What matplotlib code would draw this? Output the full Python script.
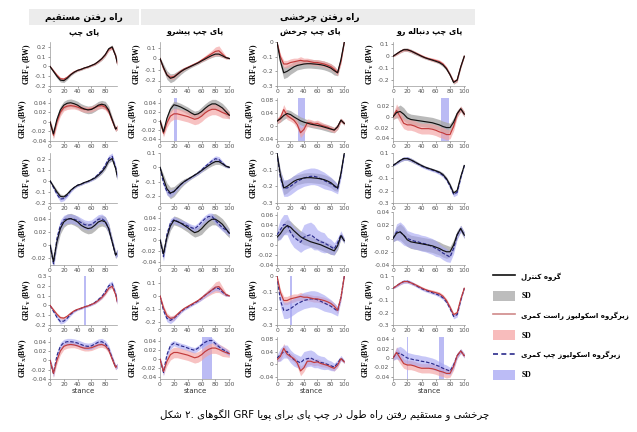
import matplotlib
matplotlib.use('Agg')
import matplotlib.pyplot as plt
from matplotlib.lines import Line2D
from matplotlib.patches import Patch, Rectangle
from matplotlib.ticker import FuncFormatter

stance = list(range(0, 101, 5))

# ---- column 1: straight walking, left foot ----
c1_y_ctrl = [0.0, -0.05, -0.10, -0.14, -0.145, -0.12, -0.085, -0.06, -0.04, -0.03, -0.015, -0.005, 0.01, 0.025, 0.05, 0.08, 0.12, 0.18, 0.20, 0.11, -0.04]
c1_y_ctrl_sd = [0.01, 0.015, 0.02, 0.02, 0.02, 0.015, 0.012, 0.01, 0.01, 0.01, 0.01, 0.01, 0.01, 0.012, 0.015, 0.018, 0.02, 0.02, 0.02, 0.02, 0.02]
c1_y_right = [0.0, -0.045, -0.09, -0.125, -0.13, -0.11, -0.08, -0.055, -0.04, -0.028, -0.015, -0.005, 0.01, 0.025, 0.05, 0.08, 0.12, 0.175, 0.195, 0.11, -0.04]
c1_y_right_sd = [0.01, 0.012, 0.015, 0.015, 0.015, 0.012, 0.01, 0.008, 0.008, 0.008, 0.008, 0.008, 0.008, 0.01, 0.012, 0.014, 0.015, 0.018, 0.018, 0.018, 0.018]
c1_y_left = [0.0, -0.06, -0.12, -0.165, -0.16, -0.13, -0.09, -0.06, -0.04, -0.03, -0.015, -0.005, 0.01, 0.03, 0.06, 0.09, 0.14, 0.2, 0.22, 0.12, -0.04]
c1_y_left_sd = [0.01, 0.015, 0.02, 0.025, 0.02, 0.018, 0.015, 0.012, 0.01, 0.01, 0.01, 0.01, 0.012, 0.015, 0.018, 0.02, 0.025, 0.03, 0.03, 0.025, 0.02]

c1_x_ctrl = [0.0, -0.025, 0.005, 0.025, 0.035, 0.039, 0.04, 0.038, 0.035, 0.03, 0.027, 0.025, 0.026, 0.03, 0.035, 0.037, 0.035, 0.025, 0.005, -0.015, -0.008]
c1_x_ctrl_sd = [0.005, 0.008, 0.008, 0.008, 0.008, 0.008, 0.008, 0.008, 0.008, 0.008, 0.008, 0.008, 0.008, 0.008, 0.008, 0.008, 0.008, 0.008, 0.006, 0.005, 0.005]
c1_x_right = [0.0, -0.028, 0.0, 0.02, 0.03, 0.033, 0.034, 0.033, 0.031, 0.028, 0.026, 0.026, 0.027, 0.03, 0.033, 0.034, 0.031, 0.022, 0.003, -0.015, -0.008]
c1_x_right_sd = [0.005, 0.008, 0.008, 0.008, 0.007, 0.007, 0.007, 0.006, 0.006, 0.006, 0.006, 0.006, 0.006, 0.006, 0.006, 0.006, 0.006, 0.006, 0.006, 0.005, 0.005]
c1_x_left = [0.0, -0.028, 0.01, 0.03, 0.038, 0.04, 0.04, 0.039, 0.037, 0.034, 0.031, 0.03, 0.031, 0.035, 0.039, 0.04, 0.036, 0.025, 0.005, -0.015, -0.008]
c1_x_left_sd = [0.005, 0.008, 0.008, 0.008, 0.007, 0.007, 0.007, 0.007, 0.007, 0.007, 0.007, 0.007, 0.007, 0.007, 0.007, 0.007, 0.007, 0.007, 0.006, 0.005, 0.005]

# ---- column 2: turning, leading left foot ----
c2_y_ctrl = [0.0, -0.08, -0.15, -0.18, -0.17, -0.145, -0.12, -0.1, -0.085, -0.07, -0.055, -0.04, -0.022, -0.005, 0.012, 0.028, 0.04, 0.04, 0.025, 0.008, 0.0]
c2_y_ctrl_sd = [0.01, 0.03, 0.04, 0.04, 0.035, 0.03, 0.025, 0.02, 0.015, 0.012, 0.012, 0.012, 0.012, 0.015, 0.015, 0.018, 0.02, 0.02, 0.015, 0.01, 0.005]
c2_y_right = [0.0, -0.09, -0.15, -0.17, -0.165, -0.14, -0.115, -0.095, -0.08, -0.065, -0.05, -0.035, -0.015, 0.005, 0.025, 0.045, 0.065, 0.07, 0.04, 0.01, 0.0]
c2_y_right_sd = [0.01, 0.02, 0.02, 0.02, 0.02, 0.015, 0.012, 0.01, 0.01, 0.01, 0.01, 0.012, 0.015, 0.02, 0.025, 0.03, 0.04, 0.045, 0.03, 0.015, 0.005]
c2_y_left = [0.0, -0.11, -0.17, -0.185, -0.17, -0.145, -0.12, -0.1, -0.085, -0.07, -0.055, -0.038, -0.018, 0.005, 0.025, 0.045, 0.06, 0.055, 0.03, 0.008, 0.0]
c2_y_left_sd = [0.01, 0.02, 0.025, 0.025, 0.02, 0.015, 0.012, 0.01, 0.01, 0.01, 0.01, 0.012, 0.015, 0.015, 0.015, 0.018, 0.02, 0.02, 0.015, 0.01, 0.005]

c2_x_ctrl = [0.0, -0.025, 0.005, 0.025, 0.035, 0.033, 0.03, 0.026, 0.022, 0.017, 0.013, 0.015, 0.02, 0.027, 0.033, 0.037, 0.037, 0.033, 0.028, 0.02, 0.012]
c2_x_ctrl_sd = [0.005, 0.008, 0.008, 0.008, 0.008, 0.008, 0.008, 0.008, 0.008, 0.008, 0.008, 0.008, 0.01, 0.01, 0.01, 0.01, 0.01, 0.01, 0.01, 0.01, 0.008]
c2_x_right = [0.0, -0.028, -0.005, 0.01, 0.015, 0.015, 0.013, 0.011, 0.009, 0.006, 0.003, 0.005, 0.01, 0.017, 0.022, 0.025, 0.025, 0.022, 0.018, 0.015, 0.012]
c2_x_right_sd = [0.005, 0.008, 0.01, 0.012, 0.012, 0.012, 0.012, 0.012, 0.012, 0.012, 0.012, 0.012, 0.012, 0.012, 0.012, 0.012, 0.012, 0.012, 0.012, 0.01, 0.008]
c2_x_left = [0.0, -0.03, 0.01, 0.03, 0.036, 0.033, 0.03, 0.028, 0.025, 0.022, 0.02, 0.025, 0.032, 0.038, 0.042, 0.042, 0.035, 0.028, 0.022, 0.018, 0.012]
c2_x_left_sd = [0.005, 0.008, 0.008, 0.008, 0.006, 0.006, 0.006, 0.006, 0.006, 0.006, 0.006, 0.006, 0.006, 0.006, 0.006, 0.006, 0.006, 0.006, 0.006, 0.006, 0.005]

# ---- column 3: turning, pivot left foot ----
c3_y_ctrl = [0.0, -0.13, -0.21, -0.2, -0.185, -0.17, -0.16, -0.155, -0.15, -0.148, -0.148, -0.15, -0.152, -0.155, -0.16, -0.168, -0.178, -0.195, -0.21, -0.12, 0.0]
c3_y_ctrl_sd = [0.005, 0.03, 0.04, 0.04, 0.035, 0.035, 0.03, 0.03, 0.03, 0.03, 0.03, 0.03, 0.03, 0.03, 0.03, 0.03, 0.03, 0.03, 0.02, 0.02, 0.005]
c3_y_right = [0.0, -0.1, -0.15, -0.15, -0.14, -0.135, -0.13, -0.125, -0.13, -0.13, -0.135, -0.14, -0.14, -0.145, -0.15, -0.158, -0.168, -0.185, -0.21, -0.13, 0.0]
c3_y_right_sd = [0.005, 0.02, 0.025, 0.025, 0.025, 0.025, 0.02, 0.025, 0.02, 0.02, 0.02, 0.02, 0.02, 0.02, 0.02, 0.02, 0.02, 0.02, 0.02, 0.02, 0.005]
c3_y_left = [0.0, -0.15, -0.21, -0.21, -0.2, -0.185, -0.17, -0.16, -0.15, -0.145, -0.14, -0.14, -0.145, -0.155, -0.165, -0.175, -0.185, -0.2, -0.215, -0.13, 0.0]
c3_y_left_sd = [0.005, 0.04, 0.05, 0.05, 0.05, 0.05, 0.05, 0.05, 0.05, 0.05, 0.05, 0.05, 0.05, 0.05, 0.05, 0.045, 0.04, 0.035, 0.03, 0.02, 0.005]

c3_x_ctrl = [0.015, 0.022, 0.032, 0.038, 0.035, 0.028, 0.022, 0.016, 0.012, 0.009, 0.006, 0.004, 0.002, 0.0, -0.003, -0.006, -0.009, -0.012, -0.002, 0.018, 0.008]
c3_x_ctrl_sd = [0.008, 0.01, 0.012, 0.012, 0.012, 0.012, 0.012, 0.012, 0.012, 0.01, 0.01, 0.01, 0.01, 0.01, 0.01, 0.01, 0.01, 0.008, 0.008, 0.006, 0.005]
c3_x_right = [0.015, 0.025, 0.05, 0.032, 0.025, 0.018, 0.005, -0.02, -0.01, 0.01, 0.01, 0.006, 0.008, 0.003, 0.0, -0.003, -0.008, -0.012, -0.002, 0.018, 0.008]
c3_x_right_sd = [0.008, 0.012, 0.015, 0.012, 0.01, 0.01, 0.012, 0.015, 0.012, 0.012, 0.01, 0.01, 0.01, 0.01, 0.008, 0.008, 0.008, 0.008, 0.008, 0.006, 0.005]
c3_x_left = [0.02, 0.03, 0.04, 0.04, 0.025, 0.015, 0.01, 0.005, 0.015, 0.018, 0.02, 0.015, 0.01, 0.006, 0.004, 0.0, -0.004, -0.008, 0.004, 0.02, 0.008]
c3_x_left_sd = [0.01, 0.02, 0.02, 0.02, 0.02, 0.02, 0.02, 0.02, 0.025, 0.025, 0.025, 0.025, 0.02, 0.02, 0.02, 0.015, 0.015, 0.012, 0.01, 0.008, 0.005]

# ---- column 4: turning, trailing left foot ----
c4_y_ctrl = [0.0, 0.02, 0.04, 0.055, 0.055, 0.045, 0.03, 0.015, 0.0, -0.013, -0.023, -0.032, -0.042, -0.053, -0.072, -0.105, -0.155, -0.22, -0.2, -0.09, 0.0]
c4_y_ctrl_sd = [0.005, 0.01, 0.012, 0.015, 0.015, 0.015, 0.015, 0.012, 0.012, 0.01, 0.01, 0.01, 0.01, 0.012, 0.015, 0.015, 0.015, 0.015, 0.015, 0.01, 0.005]
c4_y_right = [0.0, 0.02, 0.04, 0.055, 0.055, 0.045, 0.032, 0.018, 0.003, -0.01, -0.02, -0.028, -0.036, -0.045, -0.065, -0.1, -0.155, -0.215, -0.2, -0.09, 0.0]
c4_y_right_sd = [0.005, 0.01, 0.012, 0.012, 0.012, 0.012, 0.012, 0.012, 0.012, 0.012, 0.012, 0.015, 0.015, 0.015, 0.015, 0.015, 0.015, 0.015, 0.015, 0.01, 0.005]
c4_y_left = [0.0, 0.02, 0.04, 0.055, 0.057, 0.045, 0.03, 0.013, -0.003, -0.016, -0.026, -0.036, -0.046, -0.058, -0.078, -0.112, -0.165, -0.23, -0.215, -0.1, 0.0]
c4_y_left_sd = [0.005, 0.01, 0.012, 0.015, 0.015, 0.015, 0.012, 0.012, 0.012, 0.012, 0.012, 0.012, 0.012, 0.015, 0.015, 0.015, 0.018, 0.02, 0.02, 0.01, 0.005]

c4_x_ctrl = [0.0, 0.008, 0.01, 0.005, -0.002, -0.005, -0.006, -0.007, -0.008, -0.009, -0.01, -0.011, -0.013, -0.015, -0.018, -0.02, -0.02, -0.01, 0.006, 0.015, 0.005]
c4_x_ctrl_sd = [0.005, 0.01, 0.012, 0.012, 0.01, 0.01, 0.01, 0.01, 0.01, 0.01, 0.01, 0.01, 0.01, 0.01, 0.01, 0.01, 0.008, 0.008, 0.006, 0.005, 0.005]
c4_x_right = [0.0, 0.012, 0.0, -0.012, -0.015, -0.015, -0.017, -0.02, -0.022, -0.022, -0.022, -0.023, -0.025, -0.028, -0.03, -0.033, -0.033, -0.018, 0.005, 0.015, 0.005]
c4_x_right_sd = [0.005, 0.012, 0.012, 0.01, 0.01, 0.01, 0.01, 0.01, 0.01, 0.01, 0.01, 0.01, 0.01, 0.01, 0.01, 0.01, 0.008, 0.008, 0.006, 0.005, 0.005]
c4_x_left = [0.0, 0.01, 0.01, 0.005, 0.0, -0.002, -0.004, -0.005, -0.007, -0.008, -0.01, -0.012, -0.015, -0.018, -0.022, -0.025, -0.028, -0.015, 0.005, 0.015, 0.005]
c4_x_left_sd = [0.005, 0.012, 0.015, 0.015, 0.012, 0.012, 0.012, 0.012, 0.012, 0.012, 0.012, 0.012, 0.012, 0.01, 0.01, 0.01, 0.008, 0.008, 0.006, 0.005, 0.005]

# significant regions (row, col, start, end)
sig_spans = [(1, 1, 20, 24), (1, 2, 31, 41), (1, 3, 68, 78), (4, 0, 49, 52),
             (4, 2, 20, 22), (5, 1, 60, 75), (5, 3, 19, 21), (5, 3, 65, 72)]

header_texts = ['راه رفتن مستقیم', 'راه رفتن چرخشی']
column_titles = ['پای چپ', 'پای چپ پیشرو', 'پای چپ چرخش', 'پای چپ دنباله رو']
legend_labels = ['گروه کنترل', 'SD', 'زیرگروه اسکولیوز راست کمری', 'SD', 'زیرگروه اسکولیوز چپ کمری', 'SD']
caption = 'شکل ۲. الگوهای GRF پویا برای پای چپ در طول راه رفتن مستقیم و چرخشی'

# ---- minimal Persian shaping (matplotlib does no joining / bidi) ----
FORMS = {
    'ا': ('\uFE8D', '\uFE8E', None, None),
    'ب': ('\uFE8F', '\uFE90', '\uFE91', '\uFE92'),
    'پ': ('\uFB56', '\uFB57', '\uFB58', '\uFB59'),
    'ت': ('\uFE95', '\uFE96', '\uFE97', '\uFE98'),
    'چ': ('\uFB7A', '\uFB7B', '\uFB7C', '\uFB7D'),
    'خ': ('\uFEA5', '\uFEA6', '\uFEA7', '\uFEA8'),
    'د': ('\uFEA9', '\uFEAA', None, None),
    'ر': ('\uFEAD', '\uFEAE', None, None),
    'ز': ('\uFEAF', '\uFEB0', None, None),
    'س': ('\uFEB1', '\uFEB2', '\uFEB3', '\uFEB4'),
    'ش': ('\uFEB5', '\uFEB6', '\uFEB7', '\uFEB8'),
    'ط': ('\uFEC1', '\uFEC2', '\uFEC3', '\uFEC4'),
    'ف': ('\uFED1', '\uFED2', '\uFED3', '\uFED4'),
    'ق': ('\uFED5', '\uFED6', '\uFED7', '\uFED8'),
    'ک': ('\uFB8E', '\uFB8F', '\uFB90', '\uFB91'),
    'گ': ('\uFB92', '\uFB93', '\uFB94', '\uFB95'),
    'ل': ('\uFEDD', '\uFEDE', '\uFEDF', '\uFEE0'),
    'م': ('\uFEE1', '\uFEE2', '\uFEE3', '\uFEE4'),
    'ن': ('\uFEE5', '\uFEE6', '\uFEE7', '\uFEE8'),
    'ه': ('\uFEE9', '\uFEEA', '\uFEEB', '\uFEEC'),
    'و': ('\uFEED', '\uFEEE', None, None),
    'ی': ('\uFBFC', '\uFBFD', '\uFBFE', '\uFBFF'),
}


def shape(word):
    out = []
    for i, ch in enumerate(word):
        if ch not in FORMS:
            out.append(ch)
            continue
        iso, fin, ini, med = FORMS[ch]
        prev = word[i - 1] if i > 0 else None
        nxt = word[i + 1] if i + 1 < len(word) else None
        jp = prev in FORMS and FORMS[prev][2] is not None
        jn = nxt in FORMS and ini is not None
        if jp and jn:
            out.append(med)
        elif jp:
            out.append(fin)
        elif jn:
            out.append(ini)
        else:
            out.append(iso)
    return ''.join(out)


def rtl(text):
    return shape(text)[::-1]


def ltr_words(text):
    # caption in the source keeps left-to-right word order
    words = []
    for w in text.split(' '):
        if any(ch in FORMS for ch in w):
            words.append(shape(w)[::-1])
        else:
            words.append(w)
    return ' '.join(words)


cols = [
    ((c1_y_ctrl, c1_y_ctrl_sd), (c1_y_right, c1_y_right_sd), (c1_y_left, c1_y_left_sd),
     (c1_x_ctrl, c1_x_ctrl_sd), (c1_x_right, c1_x_right_sd), (c1_x_left, c1_x_left_sd)),
    ((c2_y_ctrl, c2_y_ctrl_sd), (c2_y_right, c2_y_right_sd), (c2_y_left, c2_y_left_sd),
     (c2_x_ctrl, c2_x_ctrl_sd), (c2_x_right, c2_x_right_sd), (c2_x_left, c2_x_left_sd)),
    ((c3_y_ctrl, c3_y_ctrl_sd), (c3_y_right, c3_y_right_sd), (c3_y_left, c3_y_left_sd),
     (c3_x_ctrl, c3_x_ctrl_sd), (c3_x_right, c3_x_right_sd), (c3_x_left, c3_x_left_sd)),
    ((c4_y_ctrl, c4_y_ctrl_sd), (c4_y_right, c4_y_right_sd), (c4_y_left, c4_y_left_sd),
     (c4_x_ctrl, c4_x_ctrl_sd), (c4_x_right, c4_x_right_sd), (c4_x_left, c4_x_left_sd)),
]

# y limits / ticks per row and column
ylims = [
    [(-0.2, 0.25), (-0.25, 0.15), (-0.3, 0.0), (-0.25, 0.12)],
    [(-0.04, 0.05), (-0.045, 0.05), (-0.045, 0.085), (-0.045, 0.035)],
    [(-0.2, 0.25), (-0.25, 0.1), (-0.3, 0.0), (-0.3, 0.1)],
    [(-0.03, 0.05), (-0.045, 0.05), (-0.04, 0.065), (-0.04, 0.04)],
    [(-0.2, 0.3), (-0.22, 0.15), (-0.3, 0.0), (-0.3, 0.1)],
    [(-0.04, 0.05), (-0.045, 0.05), (-0.045, 0.085), (-0.045, 0.045)],
]
yticks = [
    [[-0.2, -0.1, 0, 0.1, 0.2], [-0.2, -0.1, 0, 0.1], [-0.3, -0.2, -0.1, 0], [-0.2, -0.1, 0, 0.1]],
    [[-0.04, -0.02, 0, 0.02, 0.04], [-0.04, -0.02, 0, 0.02, 0.04], [-0.04, 0, 0.04, 0.08], [-0.04, -0.02, 0, 0.02]],
    [[-0.2, -0.1, 0, 0.1, 0.2], [-0.2, -0.1, 0, 0.1], [-0.3, -0.2, -0.1, 0], [-0.3, -0.2, -0.1, 0, 0.1]],
    [[-0.02, 0, 0.02, 0.04], [-0.04, -0.02, 0, 0.02, 0.04], [-0.04, -0.02, 0, 0.02, 0.04, 0.06], [-0.04, -0.02, 0, 0.02, 0.04]],
    [[-0.2, -0.1, 0, 0.1, 0.2, 0.3], [-0.2, -0.1, 0, 0.1], [-0.3, -0.2, -0.1, 0], [-0.3, -0.2, -0.1, 0, 0.1]],
    [[-0.04, -0.02, 0, 0.02, 0.04], [-0.04, -0.02, 0, 0.02, 0.04], [-0.04, 0, 0.04, 0.08], [-0.04, -0.02, 0, 0.02, 0.04]],
]

# which groups appear in each row: (component offset, groups)
row_groups = [(0, ['ctrl', 'right']), (3, ['ctrl', 'right']),
              (0, ['ctrl', 'left']), (3, ['ctrl', 'left']),
              (0, ['right', 'left']), (3, ['right', 'left'])]
gidx = {'ctrl': 0, 'right': 1, 'left': 2}
band_col = {'ctrl': '#a9a9a9', 'right': '#f3a2a2', 'left': '#a3a3f2'}
band_alpha = {'ctrl': 0.8, 'right': 0.65, 'left': 0.6}
line_col = {'ctrl': '#111111', 'right': '#c23b3b', 'left': '#2b2b8c'}
line_ls = {'ctrl': '-', 'right': '-', 'left': (0, (3, 1.5))}

W, H = 637, 432
fig = plt.figure(figsize=(W / 100, H / 100), dpi=100)

col_left = [50, 160, 277, 393]
col_w = [67, 70, 68, 72]
row_top = [42, 98, 153, 212, 276, 337]
row_bot = [86, 141, 203, 265, 325, 379]

fmt = FuncFormatter(lambda v, p: '%g' % round(v, 3))

for r in range(6):
    off, groups = row_groups[r]
    for c in range(4):
        ax = fig.add_axes([col_left[c] / W, 1 - row_bot[r] / H, col_w[c] / W, (row_bot[r] - row_top[r]) / H])
        for (rr, cc, s0, s1) in sig_spans:
            if rr == r and cc == c:
                ax.axvspan(s0, s1, color='#8f8fee', alpha=0.6, lw=0, zorder=1)
        for g in groups:
            m, sd = cols[c][off + gidx[g]]
            lo = [a - b for a, b in zip(m, sd)]
            hi = [a + b for a, b in zip(m, sd)]
            ax.fill_between(stance, lo, hi, color=band_col[g], alpha=band_alpha[g], lw=0, zorder=2)
        for g in groups[::-1]:
            m, sd = cols[c][off + gidx[g]]
            ax.plot(stance, m, color=line_col[g], ls=line_ls[g], lw=0.85, zorder=3)
        if c == 0:
            ax.set_xlim(0, 97)
            ax.set_xticks([0, 20, 40, 60, 80])
        else:
            ax.set_xlim(0, 101)
            ax.set_xticks([0, 20, 40, 60, 80, 100])
        ax.set_ylim(*ylims[r][c])
        ax.set_yticks(yticks[r][c])
        ax.yaxis.set_major_formatter(fmt)
        for s in ['top', 'right']:
            ax.spines[s].set_visible(False)
        for s in ['left', 'bottom']:
            ax.spines[s].set_color('#999999')
            ax.spines[s].set_linewidth(0.5)
        ax.tick_params(labelsize=4.3, length=1.5, width=0.4, pad=1, colors='#555555')
        lab = 'GRF$_\\mathregular{Y}$ (BW)' if off == 0 else 'GRF$_\\mathregular{X}$(BW)'
        ax.set_ylabel(lab, fontsize=5.5, fontweight='bold', family='Liberation Serif', labelpad=1.5)
        if r == 5:
            ax.set_xlabel('stance', fontsize=5, labelpad=0.5, color='#333333')

# header bands
fig.add_artist(Rectangle((29 / W, 1 - 25 / H), 110 / W, 16 / H, transform=fig.transFigure, color='#ececec', lw=0))
fig.add_artist(Rectangle((141 / W, 1 - 25 / H), 334 / W, 16 / H, transform=fig.transFigure, color='#ececec', lw=0))
fig.text(84 / W, 1 - 17 / H, rtl(header_texts[0]), ha='center', va='center', fontsize=6.5, fontweight='bold')
fig.text(320 / W, 1 - 17 / H, rtl(header_texts[1]), ha='center', va='center', fontsize=6.5, fontweight='bold')
for x, t in zip([84, 195, 310, 430], column_titles):
    fig.text(x / W, 1 - 32 / H, rtl(t), ha='center', va='center', fontsize=5.8, fontweight='bold')

# legend
handles = [Line2D([], [], color='#111111', lw=1.2),
           Patch(color='#bdbdbd', lw=0),
           Line2D([], [], color='#d08a8a', lw=1.2),
           Patch(color='#f8bcbc', lw=0),
           Line2D([], [], color='#2b2b8c', lw=1.2, ls=(0, (3, 2))),
           Patch(color='#bcbcf6', lw=0)]
labels = [rtl(t) if t != 'SD' else t for t in legend_labels]
leg = fig.legend(handles, labels, loc='upper left', bbox_to_anchor=(487 / W, 1 - 265 / H),
                 frameon=False, fontsize=5, handlelength=3.2, handleheight=1.9,
                 labelspacing=1.35, handletextpad=0.85)
for t, raw in zip(leg.get_texts(), legend_labels):
    t.set_fontweight('bold')
    if raw == 'SD':
        t.set_family('Liberation Serif')
        t.set_fontsize(5.5)

fig.text(325 / W, 1 - 415 / H, ltr_words(caption), ha='center', va='center', fontsize=7.3)

fig.savefig('out.png', dpi=100)
